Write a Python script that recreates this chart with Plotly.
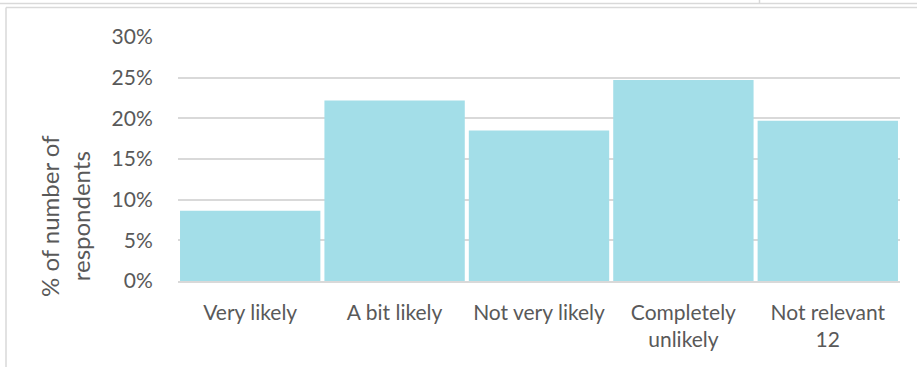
import plotly.graph_objects as go

# Survey responses: share of respondents per answer
categories = ["Very likely", "A bit likely", "Not very likely", "Completely<br>unlikely", "Not relevant<br>12"]
shares = [0.0865, 0.222, 0.185, 0.247, 0.197]

y_ticks = [0, 0.05, 0.10, 0.15, 0.20, 0.25, 0.30]
y_title = "% of number of<br>respondents"

W, H = 917, 367
ML, MR, MT, MB = 178, 17, 37, 86
PW, PH = W - ML - MR, H - MT - MB


def px_x(x):
    return (x - ML) / PW


def px_y(y):
    return (H - MB - y) / PH


BAR = "#A3DEE8"
GRID = "#D9D9D9"
TEXT = "#595959"
FONT = "Lato"

fig = go.Figure(
    go.Bar(
        x=categories,
        y=shares,
        marker=dict(color=BAR, line=dict(width=0)),
        hoverinfo="skip",
    )
)

fig.update_layout(
    width=W,
    height=H,
    margin=dict(l=ML, r=MR, t=MT, b=MB, pad=0),
    paper_bgcolor="white",
    plot_bgcolor="white",
    bargap=0.028,
    showlegend=False,
    font=dict(family=FONT, size=21, color=TEXT),
)

fig.update_xaxes(
    showgrid=False,
    showline=True,
    linecolor=GRID,
    linewidth=1.5,
    ticks="outside",
    ticklen=12,
    tickcolor="rgba(0,0,0,0)",
    tickfont=dict(family=FONT, size=21, color=TEXT),
    fixedrange=True,
)

fig.update_yaxes(
    range=[0, 0.30],
    tickvals=y_ticks,
    tickformat=".0%",
    showgrid=True,
    gridcolor=GRID,
    gridwidth=1.5,
    zeroline=False,
    showline=False,
    ticks="outside",
    ticklen=20,
    tickcolor="rgba(0,0,0,0)",
    tickfont=dict(family=FONT, size=21, color=TEXT),
    fixedrange=True,
)

# Rotated two-line axis title
fig.add_annotation(
    text=y_title,
    xref="paper",
    yref="paper",
    x=px_x(65),
    y=px_y(216),
    xanchor="center",
    yanchor="middle",
    textangle=-90,
    showarrow=False,
    font=dict(family=FONT, size=24, color=TEXT),
)

# Frame lines around the chart
frame = dict(color=GRID, width=1.5)
fig.add_shape(type="line", xref="paper", yref="paper",
              x0=px_x(0), x1=px_x(W), y0=px_y(3.5), y1=px_y(3.5), line=frame)
fig.add_shape(type="line", xref="paper", yref="paper",
              x0=px_x(6), x1=px_x(W), y0=px_y(7.5), y1=px_y(7.5), line=frame)
fig.add_shape(type="line", xref="paper", yref="paper",
              x0=px_x(6), x1=px_x(6), y0=px_y(7.5), y1=px_y(H), line=frame)
fig.add_shape(type="line", xref="paper", yref="paper",
              x0=px_x(759.5), x1=px_x(759.5), y0=px_y(0), y1=px_y(3.5), line=frame)

fig.write_html("out.html", config={"displayModeBar": False})
